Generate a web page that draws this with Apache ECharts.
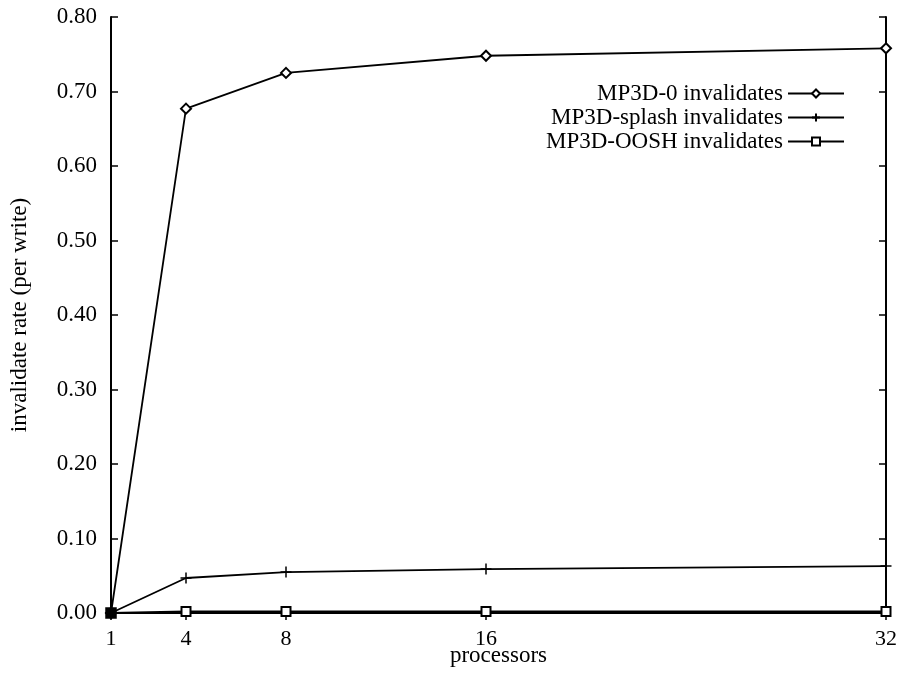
<!DOCTYPE html>
<html><head><meta charset="utf-8">
<script src="https://cdn.jsdelivr.net/npm/echarts@6/dist/echarts.min.js"></script>
<style>html,body{margin:0;padding:0;background:#fff}#c{width:904px;height:675px}</style>
</head><body><div id="c"></div>
<script>
const processors = [1, 4, 8, 16, 32];
const xTicks = [1, 4, 8, 16, 32];
const seriesNames = ['MP3D-0 invalidates', 'MP3D-splash invalidates', 'MP3D-OOSH invalidates'];
const mp3d0 = [0.0, 0.677, 0.725, 0.748, 0.758];
const mp3dSplash = [0.0, 0.047, 0.055, 0.059, 0.063];
const mp3dOosh = [0.0, 0.002, 0.002, 0.002, 0.002];

const FONT = 'Liberation Serif';
const plusPath = 'path://M5,0 L5,10 M0,5 L10,5';
const pair = v => processors.map((x, i) => [x, v[i]]);
const mk = (name, data, symbol, size, z) => ({
  name, type: 'line', data, symbol, symbolSize: size,
  showAllSymbol: true,
  lineStyle: { color: '#000', width: 1.8 },
  itemStyle: { color: '#000', borderColor: '#000', borderWidth: 1.5 },
  emphasis: { disabled: true }, animation: false, z
});
const ooshData = pair(mp3dOosh).map((p, i) => i === 0
  ? { value: p, symbol: 'rect', symbolSize: 10, itemStyle: { color: '#000' } }
  : { value: p });

const chart = echarts.init(document.getElementById('c'));
const axisCommon = {
  axisLine: { show: true, lineStyle: { color: '#000', width: 2 } },
  axisTick: { show: true, inside: true, length: 7, lineStyle: { color: '#000', width: 1.5 } },
  splitLine: { show: false }
};
chart.setOption({
  backgroundColor: '#fff',
  animation: false,
  grid: { left: 111, right: 18, top: 17, bottom: 62, containLabel: false, outerBoundsMode: 'none' },
  xAxis: [{
    type: 'value', min: 1, max: 32, position: 'bottom',
    ...axisCommon,
    axisTick: { ...axisCommon.axisTick, customValues: xTicks },
    axisLabel: { customValues: xTicks, color: '#000', fontFamily: FONT, fontSize: 22, margin: 15 },
    name: 'processors', nameLocation: 'middle', nameGap: 31, nameMoveOverlap: false,
    nameTextStyle: { color: '#000', fontFamily: FONT, fontSize: 23 }
  }, {
    type: 'value', min: 1, max: 32, position: 'top',
    ...axisCommon,
    axisTick: { ...axisCommon.axisTick, customValues: xTicks },
    axisLabel: { show: false, customValues: xTicks }
  }],
  yAxis: [{
    type: 'value', min: 0, max: 0.8, interval: 0.1, position: 'left',
    ...axisCommon,
    axisLabel: { color: '#000', fontFamily: FONT, fontSize: 23, margin: 14, formatter: v => v.toFixed(2) },
    name: 'invalidate rate (per write)', nameLocation: 'middle', nameGap: 80, nameMoveOverlap: false,
    nameTextStyle: { color: '#000', fontFamily: FONT, fontSize: 23 }
  }, {
    type: 'value', min: 0, max: 0.8, interval: 0.1, position: 'right',
    ...axisCommon,
    axisLabel: { show: false }
  }],
  legend: {
    orient: 'vertical', right: 54, top: 77, align: 'right',
    itemWidth: 56, itemHeight: 10, itemGap: 1,
    textStyle: { color: '#000', fontFamily: FONT, fontSize: 23, padding: [0, 0, 0, 0] },
    data: seriesNames
  },
  series: [
    mk(seriesNames[0], pair(mp3d0), 'emptyDiamond', 10, 3),
    mk(seriesNames[1], pair(mp3dSplash), plusPath, 11, 4),
    mk(seriesNames[2], ooshData, 'emptyRect', 9, 5)
  ]
});
</script></body></html>
